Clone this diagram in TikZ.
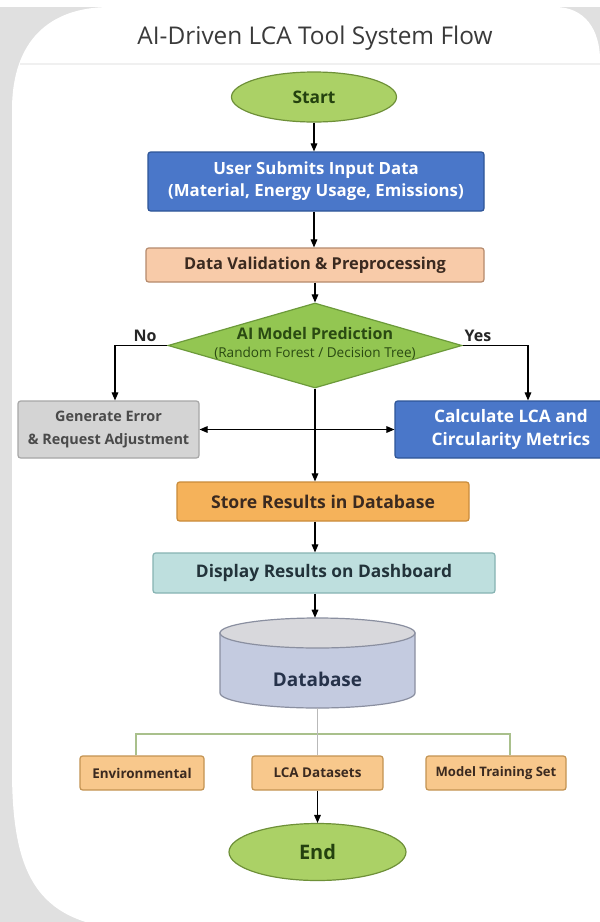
\documentclass[tikz,border=0pt]{standalone}
\usepackage{fontspec}
\setmainfont{Open Sans}
\usetikzlibrary{shapes.geometric,arrows.meta,calc}
\definecolor{bgGray}{HTML}{E0E0E0}
\definecolor{titleCol}{HTML}{3A3A3A}
\definecolor{termFill}{HTML}{ABD166}
\definecolor{termDraw}{HTML}{6E9038}
\definecolor{termText}{HTML}{24410F}
\definecolor{blueFill}{HTML}{4A77C9}
\definecolor{blueDraw}{HTML}{2E5597}
\definecolor{peachFill}{HTML}{F8CBA9}
\definecolor{peachDraw}{HTML}{B58A6C}
\definecolor{darkText}{HTML}{3B2A20}
\definecolor{diaFill}{HTML}{93C652}
\definecolor{diaDraw}{HTML}{6C9A3A}
\definecolor{diaText}{HTML}{2A4A12}
\definecolor{grayFill}{HTML}{D4D4D4}
\definecolor{grayDraw}{HTML}{A6A6A6}
\definecolor{grayText}{HTML}{4A4A4A}
\definecolor{orFill}{HTML}{F5B25A}
\definecolor{orDraw}{HTML}{C98B3A}
\definecolor{tealFill}{HTML}{BEDFDE}
\definecolor{tealDraw}{HTML}{86B3B2}
\definecolor{tealText}{HTML}{22333A}
\definecolor{cylBody}{HTML}{C4CBE0}
\definecolor{cylTop}{HTML}{D8D8DC}
\definecolor{cylDraw}{HTML}{8A8FA0}
\definecolor{cylText}{HTML}{26324A}
\definecolor{smFill}{HTML}{F8C88C}
\definecolor{smDraw}{HTML}{C39352}
\definecolor{treeCol}{HTML}{A9C08C}
\tikzset{
  boxsty/.style={rectangle, rounded corners=2pt, draw, line width=0.9pt, inner sep=0pt, align=center},
  termsty/.style={ellipse, draw=termDraw, fill=termFill, line width=0.9pt, inner sep=0pt, text=termText},
  arr/.style={-{Triangle[length=6pt,width=5pt]}, line width=0.8pt, black},
  darr/.style={{Triangle[length=6pt,width=5pt]}-{Triangle[length=6pt,width=5pt]}, line width=0.8pt, black},
  treesty/.style={line width=1.2pt, treeCol},
}
\begin{document}
\begin{tikzpicture}[x=0.75pt,y=-0.75pt]
\useasboundingbox (0,0) rectangle (600,922);
\clip (0,0) rectangle (600,922);
% background card
\fill[bgGray] (0,0) rectangle (600,922);
\fill[white] (0,0) rectangle (600,7);
\fill[white] (135,930) .. controls (40,925) and (12,880) .. (12,770) -- (12,110) .. controls (12,40) and (50,7) .. (110,7) -- (555,7) .. controls (585,7) and (600,30) .. (600,60) -- (600,930) -- cycle;
\draw[line width=2pt, gray!12] (20,64) -- (600,64);
% title
\node[font={\fontsize{18.3pt}{22pt}\selectfont}, text=titleCol] (title) at (315,38) {AI-Driven LCA Tool System Flow};
% nodes
\node[termsty, minimum width=165*0.75pt, minimum height=50*0.75pt, font={\fontsize{13pt}{15pt}\selectfont\bfseries}] (start) at (314,97) {Start};
\node[boxsty, draw=blueDraw, fill=blueFill, text=white, minimum width=336*0.75pt, minimum height=59*0.75pt, font={\fontsize{12.6pt}{16.5pt}\selectfont\bfseries}] (user) at (316,181.5) {User Submits Input Data\\(Material, Energy Usage, Emissions)};
\node[boxsty, draw=peachDraw, fill=peachFill, text=darkText, minimum width=338*0.75pt, minimum height=34*0.75pt, font={\fontsize{12.3pt}{14pt}\selectfont\bfseries}] (valid) at (315,265) {Data Validation \& Preprocessing};
\node[diamond, draw=diaDraw, fill=diaFill, line width=0.9pt, inner sep=0pt, minimum width=294*0.75pt, minimum height=85*0.75pt] (pred) at (315,345.5) {};
\node[text=diaText, font={\fontsize{12pt}{14pt}\selectfont\bfseries}] (predA) at (315,333) {AI Model Prediction};
\node[text=diaText, font={\fontsize{10.2pt}{12pt}\selectfont}] (predB) at (315,353) {(Random Forest / Decision Tree)};
\node[font={\fontsize{12pt}{14pt}\selectfont\bfseries}, text=black!85] (nolab) at (145,336) {No};
\node[font={\fontsize{12pt}{14pt}\selectfont\bfseries}, text=black!85] (yeslab) at (478,336) {Yes};
\node[boxsty, draw=grayDraw, fill=grayFill, text=grayText, minimum width=181*0.75pt, minimum height=57*0.75pt, font={\fontsize{10.8pt}{17pt}\selectfont\bfseries}] (gen) at (108.5,429.5) {Generate Error\\\& Request Adjustment};
\node[boxsty, draw=blueDraw, fill=blueFill, minimum width=245*0.75pt, minimum height=57*0.75pt] (calc) at (517.5,429.5) {};
\node[text=white, align=center, font={\fontsize{12.9pt}{17pt}\selectfont\bfseries}] (calcT) at (511,429.5) {Calculate LCA and\\Circularity Metrics};
\node[boxsty, draw=orDraw, fill=orFill, text=darkText, minimum width=292*0.75pt, minimum height=39*0.75pt, font={\fontsize{13.2pt}{15pt}\selectfont\bfseries}] (store) at (323,501.5) {Store Results in Database};
\node[boxsty, draw=tealDraw, fill=tealFill, text=tealText, minimum width=342*0.75pt, minimum height=40*0.75pt, font={\fontsize{13pt}{15pt}\selectfont\bfseries}] (disp) at (324,573) {Display Results on Dashboard};
% database cylinder
\node[rectangle, inner sep=0pt, minimum width=195*0.75pt, minimum height=90*0.75pt] (db) at (317.5,663) {};
\filldraw[fill=cylBody, draw=cylDraw, line width=0.9pt] (220,633) -- (220,693) arc[start angle=180, end angle=0, x radius=97.5, y radius=15] -- (415,633) -- cycle;
\filldraw[fill=cylTop, draw=cylDraw, line width=0.9pt] (317.5,633) ellipse [x radius=97.5, y radius=15];
\node[text=cylText, font={\fontsize{14.2pt}{16pt}\selectfont\bfseries}] (dbT) at (317.5,679) {Database};
% small boxes
\node[boxsty, draw=smDraw, fill=smFill, text=darkText, minimum width=124*0.75pt, minimum height=34*0.75pt, font={\fontsize{10.1pt}{12pt}\selectfont\bfseries}] (env) at (142,773) {Environmental};
\node[boxsty, draw=smDraw, fill=smFill, text=darkText, minimum width=131*0.75pt, minimum height=34*0.75pt, font={\fontsize{10.1pt}{12pt}\selectfont\bfseries}] (lca) at (317.5,773) {LCA Datasets};
\node[boxsty, draw=smDraw, fill=smFill, text=darkText, minimum width=140*0.75pt, minimum height=34*0.75pt, font={\fontsize{9.8pt}{12pt}\selectfont\bfseries}] (mts) at (496,773) {Model Training Set};
\node[termsty, minimum width=177*0.75pt, minimum height=57*0.75pt, font={\fontsize{15pt}{18pt}\selectfont\bfseries}] (end) at (317.5,852) {End};
% connectors
\draw[arr] (start.south) -- (start.south |- user.north);
\draw[arr] (user.south -| start.south) -- (start.south |- valid.north);
\draw[arr] (valid.south -| pred.north) -- (pred.north);
\draw[arr] (pred.west) -| ([xshift=6.5*0.75pt]gen.north);
\draw[arr] (pred.east) -| ([xshift=10.5*0.75pt]calc.north);
\draw[darr] (gen.east) -- (calc.west);
\draw[arr] (pred.south) -- (pred.south |- store.north);
\draw[arr] (pred.south |- store.south) -- (pred.south |- disp.north);
\draw[arr] (pred.south |- disp.south) -- (pred.south |- db.north);
\coordinate (tl) at (136,734);
\coordinate (tr) at (510,734);
\draw[treesty] (env.north -| tl) -- (tl) -- (tr) -- (mts.north -| tr);
\draw[line width=1.2pt, gray!55] (db.south) -- (lca.north);
\draw[arr] (lca.south) -- (end.north);
\end{tikzpicture}
\end{document}
